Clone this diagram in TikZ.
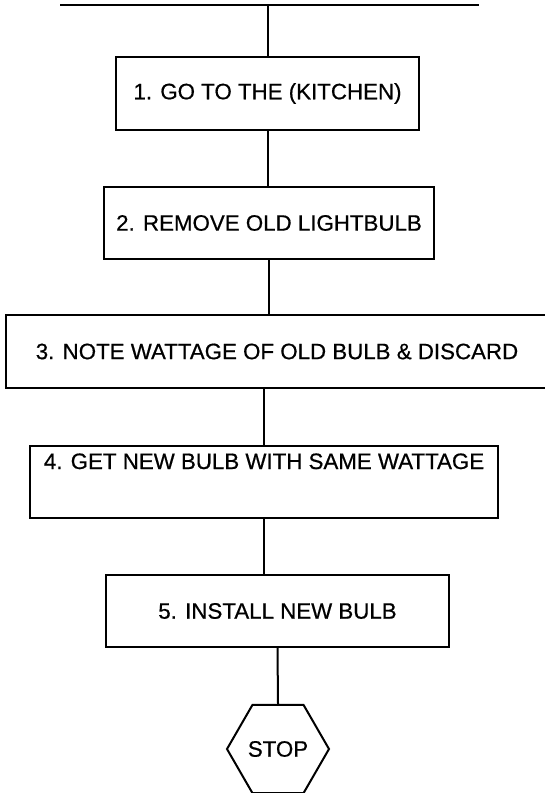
\documentclass[tikz,border=0pt]{standalone}
\usepackage{fontspec}
\setmainfont[FakeBold=0.6]{Liberation Sans}
\usetikzlibrary{shapes.geometric}
\tikzset{
  stepbox/.style={draw,line width=2pt,rectangle,align=center,inner sep=0pt,
    font=\fontsize{22.3}{26}\selectfont},
  stopsign/.style={draw,line width=2pt,regular polygon,regular polygon sides=6,
    minimum size=102pt,inner sep=0pt,font=\fontsize{22.3}{26}\selectfont},
  link/.style={line width=2pt},
}

\begin{document}
\begin{tikzpicture}[x=1pt,y=-1pt]
  \useasboundingbox (0,0) rectangle (545,793);
  % rail at the top
  \coordinate (railL) at (60,5);
  \coordinate (railR) at (479,5);
  % steps
  \node[stepbox,minimum width=303pt,minimum height=73pt] (go) at (267.5,93.5) {1. GO TO THE (KITCHEN)};
  \node[stepbox,minimum width=330pt,minimum height=72pt] (remove) at (269,223) {2. REMOVE OLD LIGHTBULB};
  \node[stepbox,minimum width=542pt,minimum height=73pt] (note) at (277,351.5) {3. NOTE WATTAGE OF OLD BULB \& DISCARD};
  \node[stepbox,minimum width=468pt,text height=23pt,text depth=49pt] (get) at (264,482) {4. GET NEW BULB WITH SAME WATTAGE};
  \node[stepbox,minimum width=343pt,minimum height=72pt] (install) at (277.5,611) {5. INSTALL NEW BULB};
  \node[stopsign] (stop) at (278,749) {STOP};
  % links
  \draw[link] (railL) -- (railR);
  \draw[link] (go.north |- railL) -- (go.north);
  \draw[link] (go.south) -- (go.south |- remove.north);
  \draw[link] (remove.south) -- (remove.south |- note.north);
  \draw[link] (get.north |- note.south) -- (get.north);
  \draw[link] (get.south) -- (get.south |- install.north);
  \draw[link] (install.south) -- (stop.north);
\end{tikzpicture}
\end{document}
